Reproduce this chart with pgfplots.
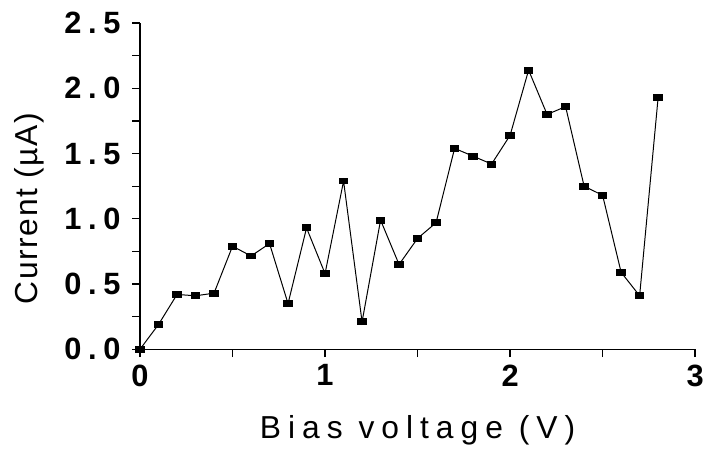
\documentclass[border=0pt]{standalone}
\usepackage{fontspec}
\setmainfont{Liberation Sans}
\newfontfamily\spaced[LetterSpace=22]{Liberation Sans}
\newfontfamily\lspaced[LetterSpace=5]{Liberation Sans}
\usepackage{pgfplots}
\pgfplotsset{compat=1.18}
\begin{document}
\begin{tikzpicture}
\begin{axis}[name=ax, scale only axis, width=559pt, height=328.4pt,
  xmin=0, xmax=3, ymin=0, ymax=2.5,
  axis lines*=left, axis line style={line width=1.5pt},
  xtick={0,1,2,3}, xticklabels={0,1,2,3},
  minor xtick={0.5,1.5,2.5},
  ytick={0,0.5,1,1.5,2,2.5}, yticklabels={0.0,0.5,1.0,1.5,2.0,2.5},
  minor ytick={0.25,0.75,1.25,1.75,2.25},
  tick align=outside, major tick length=8pt, minor tick length=8pt,
  tick style={line width=1.3pt, black},
  ticklabel style={font=\spaced\bfseries\fontsize{31}{31}\selectfont},
  yticklabel style={xshift=-8pt},
  xticklabel style={yshift=-4pt},
  xlabel={Bias voltage (V)},
  ylabel={Current (µA)},
  xlabel style={font=\spaced\fontsize{32}{32}\selectfont, at={(ticklabel cs:0.5,22pt)}},
  ylabel style={font=\lspaced\fontsize{32}{32}\selectfont, at={(ticklabel cs:0.431,13pt)}},
]
\addplot[black, line width=1pt, mark=square*, mark size=3pt, mark options={xscale=1.4}] coordinates {
(0,0) (0.1,0.19) (0.2,0.42) (0.3,0.41) (0.4,0.43) (0.5,0.79) (0.6,0.715) (0.7,0.81)
(0.8,0.35) (0.9,0.93) (1.0,0.58) (1.1,1.29) (1.2,0.21) (1.3,0.99) (1.4,0.65) (1.5,0.85)
(1.6,0.97) (1.7,1.54) (1.8,1.48) (1.9,1.42) (2.0,1.64) (2.1,2.14) (2.2,1.80) (2.3,1.86)
(2.4,1.25) (2.5,1.18) (2.6,0.59) (2.7,0.41) (2.8,1.93)
};
\end{axis}
\path ([xshift=-141pt,yshift=-99.3pt]ax.south west) rectangle ([xshift=7pt,yshift=23.3pt]ax.north east);
\end{tikzpicture}
\end{document}
